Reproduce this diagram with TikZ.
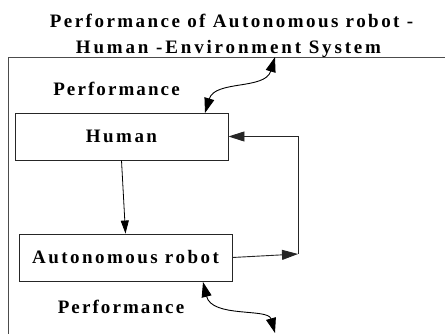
\documentclass[tikz,border=0pt]{standalone}
\usepackage{fontspec}
\setmainfont{Liberation Serif}
\newfontfamily\lsA{Liberation Serif}[LetterSpace=13,BoldFont=Liberation Serif Bold]
\newfontfamily\lsB{Liberation Serif}[LetterSpace=11,BoldFont=Liberation Serif Bold]
\newfontfamily\lsC{Liberation Serif}[LetterSpace=15,BoldFont=Liberation Serif Bold]
\usetikzlibrary{arrows.meta}
\tikzset{
  lbl/.style={inner sep=0pt},
  box/.style={draw=black!85, line width=0.9pt, minimum width=213pt, minimum height=47pt, inner sep=0pt},
  frame/.style={draw=black!70, line width=0.9pt},
  conn/.style={draw=black, line width=0.8pt, -{Triangle[length=13pt,width=8pt]}},
  fback/.style={draw=black!85, line width=0.9pt, -{Triangle[length=16pt,width=10pt]}},
  perf/.style={draw=black, line width=0.9pt, {Triangle[length=15pt,width=10pt]}-{Triangle[length=15pt,width=10pt]}},
}
\newcommand{\fA}{\lsA\bfseries\fontsize{19}{22}\selectfont}
\newcommand{\fB}{\lsB\bfseries\fontsize{19}{22}\selectfont}
\newcommand{\fC}{\lsC\bfseries\fontsize{19}{22}\selectfont}
\begin{document}
\begin{tikzpicture}[x=1pt,y=-1pt]
\useasboundingbox (0,0) rectangle (445,334);
% frame
\draw[frame] (8,334) -- (8,57) -- (445,57);
% title
\node[lbl, anchor=base] (t1) at (231.5,28) {\fA Performance of Autonomous robot -};
\node[lbl, anchor=base] (t2) at (228.5,54) {\fC Human -Environment System};
% labels
\node[lbl, anchor=base] (p1) at (116.5,96) {\fB Performance};
\node[lbl, anchor=base] (p2) at (121,313) {\fB Performance};
% boxes
\node[box] (human) at (121.5,136.5) {\fA Human};
\node[box] (robot) at (125.5,257.5) {\fA Autonomous robot};
% coordinates
\coordinate (fb) at (298,254);
\coordinate (envtop) at (275,57);
\coordinate (htop) at (205,113);
\coordinate (rbot) at (203,282);
\coordinate (envbot) at (275,333);
% connectors
\draw[conn] (human.south) -- (robot.north);
\draw[fback] (robot.east) -- (fb);
\draw[fback] (fb) |- (human.east);
\draw[perf] (htop) .. controls (215,80) and (265,90) .. (envtop);
\draw[perf] (rbot) .. controls (212,318) and (268,308) .. (envbot);
\end{tikzpicture}
\end{document}
